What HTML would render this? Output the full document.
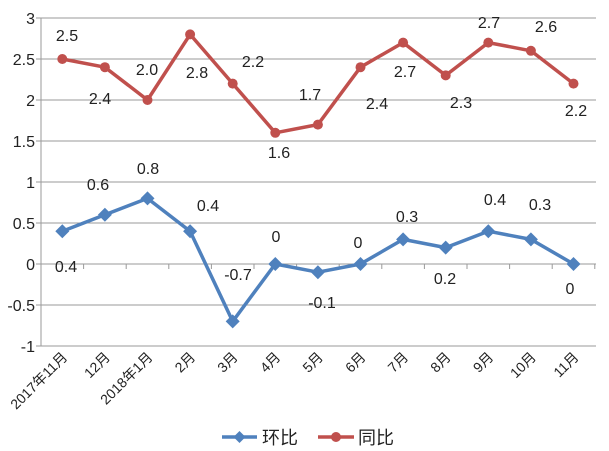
<!DOCTYPE html>
<html><head><meta charset="utf-8"><style>
html,body{margin:0;padding:0;background:#fff;}
svg{display:block;font-family:"Liberation Sans","Noto Sans CJK SC",sans-serif;}
</style></head><body>
<svg width="609" height="451" viewBox="0 0 609 451" xmlns="http://www.w3.org/2000/svg">
<g stroke="#9a9a9a" stroke-width="1">
<line x1="41" y1="18" x2="596" y2="18"/>
<line x1="41" y1="59" x2="596" y2="59"/>
<line x1="41" y1="100" x2="596" y2="100"/>
<line x1="41" y1="141" x2="596" y2="141"/>
<line x1="41" y1="182" x2="596" y2="182"/>
<line x1="41" y1="223" x2="596" y2="223"/>
<line x1="41" y1="264" x2="596" y2="264"/>
<line x1="41" y1="305" x2="596" y2="305"/>
<line x1="41" y1="346" x2="596" y2="346"/>
<line x1="41" y1="18" x2="41" y2="346"/>
<line x1="36" y1="18" x2="41" y2="18"/><line x1="36" y1="59" x2="41" y2="59"/><line x1="36" y1="100" x2="41" y2="100"/><line x1="36" y1="141" x2="41" y2="141"/><line x1="36" y1="182" x2="41" y2="182"/><line x1="36" y1="223" x2="41" y2="223"/><line x1="36" y1="264" x2="41" y2="264"/><line x1="36" y1="305" x2="41" y2="305"/><line x1="36" y1="346" x2="41" y2="346"/>
</g>
<g stroke="#9a9a9a" stroke-width="1" id="ticks"></g>
<g font-size="16" fill="#222" text-anchor="end">
<text x="35" y="24">3</text><text x="35" y="65">2.5</text><text x="35" y="106">2</text><text x="35" y="147">1.5</text><text x="35" y="188">1</text><text x="35" y="229">0.5</text><text x="35" y="270">0</text><text x="35" y="311">-0.5</text><text x="35" y="352">-1</text>
</g>
<polyline fill="none" stroke="#c0504d" stroke-width="3.5" stroke-linejoin="round" points="62.3,59 104.9,67.2 147.5,100 190.1,34.4 232.7,83.6 275.3,132.8 317.9,124.6 360.5,67.2 403.1,42.6 445.7,75.4 488.3,42.6 530.9,50.8 573.5,83.6"/>
<g fill="#c0504d">
<circle cx="62.3" cy="59" r="5"/><circle cx="104.9" cy="67.2" r="5"/><circle cx="147.5" cy="100" r="5"/><circle cx="190.1" cy="34.4" r="5"/><circle cx="232.7" cy="83.6" r="5"/><circle cx="275.3" cy="132.8" r="5"/><circle cx="317.9" cy="124.6" r="5"/><circle cx="360.5" cy="67.2" r="5"/><circle cx="403.1" cy="42.6" r="5"/><circle cx="445.7" cy="75.4" r="5"/><circle cx="488.3" cy="42.6" r="5"/><circle cx="530.9" cy="50.8" r="5"/><circle cx="573.5" cy="83.6" r="5"/>
</g>
<polyline fill="none" stroke="#4f81bd" stroke-width="3.5" stroke-linejoin="round" points="62.3,231.2 104.9,214.8 147.5,198.4 190.1,231.2 232.7,321.4 275.3,264 317.9,272.2 360.5,264 403.1,239.4 445.7,247.6 488.3,231.2 530.9,239.4 573.5,264"/>
<g fill="#4f81bd" id="dia"></g>
<g font-size="16" fill="#222" text-anchor="middle">
<text x="67" y="41">2.5</text><text x="100" y="104">2.4</text><text x="147" y="75">2.0</text><text x="197" y="78">2.8</text><text x="253" y="67">2.2</text><text x="279" y="158">1.6</text><text x="310" y="100">1.7</text><text x="377" y="109">2.4</text><text x="405" y="77">2.7</text><text x="461" y="108">2.3</text><text x="489" y="28">2.7</text><text x="546" y="32">2.6</text><text x="576" y="116">2.2</text>
<text x="66" y="272">0.4</text><text x="98" y="190">0.6</text><text x="148" y="174">0.8</text><text x="208" y="211">0.4</text><text x="238" y="280">-0.7</text><text x="276" y="242">0</text><text x="322" y="308">-0.1</text><text x="358" y="248">0</text><text x="407" y="222">0.3</text><text x="445" y="284">0.2</text><text x="495" y="205">0.4</text><text x="540" y="210">0.3</text><text x="570" y="294">0</text>
</g>
<g font-size="14" fill="#222" text-anchor="end" id="xl"></g>
<line x1="222" y1="437" x2="257" y2="437" stroke="#4f81bd" stroke-width="3.5"/>
<polygon points="239.5,431 245.5,437 239.5,443 233.5,437" fill="#4f81bd"/>
<text x="262" y="444" font-size="18" fill="#222">环比</text>
<line x1="318" y1="437" x2="354" y2="437" stroke="#c0504d" stroke-width="3.5"/>
<circle cx="336" cy="437" r="5" fill="#c0504d"/>
<text x="358" y="444" font-size="18" fill="#222">同比</text>
<script>
var ns="http://www.w3.org/2000/svg";
var t=document.getElementById("ticks"),d=document.getElementById("dia"),xl=document.getElementById("xl");
var bv=[0.4,0.6,0.8,0.4,-0.7,0,-0.1,0,0.3,0.2,0.4,0.3,0];
var lb=["2017年11月","12月","2018年1月","2月","3月","4月","5月","6月","7月","8月","9月","10月","11月"];
for(var i=0;i<=13;i++){var x=41+42.6*i;var l=document.createElementNS(ns,"line");l.setAttribute("x1",x);l.setAttribute("x2",x);l.setAttribute("y1",264);l.setAttribute("y2",269);t.appendChild(l);}
for(var i=0;i<13;i++){var x=62.3+42.6*i,y=264-82*bv[i];var p=document.createElementNS(ns,"polygon");p.setAttribute("points",x+","+(y-7)+" "+(x+7)+","+y+" "+x+","+(y+7)+" "+(x-7)+","+y);d.appendChild(p);
var tx=document.createElementNS(ns,"text");tx.setAttribute("transform","translate("+(x+6)+",358) rotate(-45)");tx.textContent=lb[i];xl.appendChild(tx);}
</script>
</svg>
</body></html>
